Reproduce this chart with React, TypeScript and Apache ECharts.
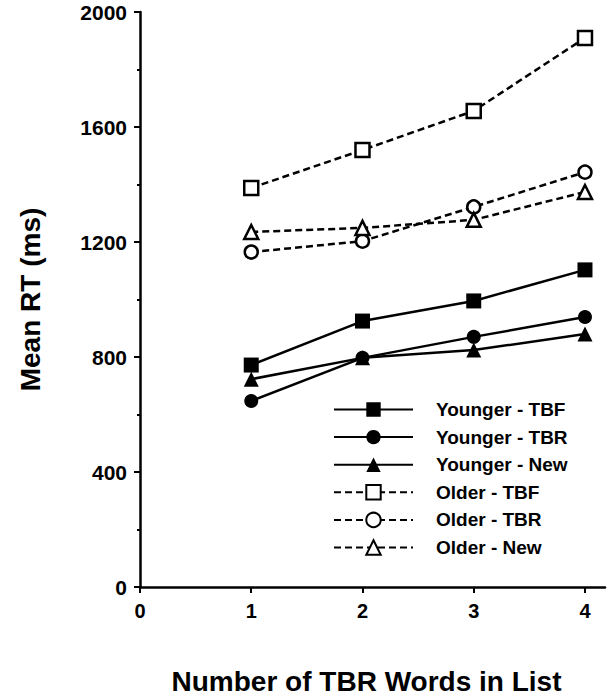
import React, { useEffect, useRef } from "react";
import * as echarts from "echarts";

const xValues = [1, 2, 3, 4];
const xTickLabels = [0, 1, 2, 3, 4];
const yTicks = { min: 0, max: 2000, interval: 400 };

const youngerTBF = [772, 925, 995, 1103];
const youngerTBR = [647, 797, 870, 939];
const youngerNew = [723, 797, 824, 880];
const olderTBF = [1388, 1520, 1656, 1910];
const olderTBR = [1165, 1203, 1322, 1443];
const olderNew = [1235, 1249, 1277, 1374];

const seriesNames = [
  "Younger - TBF",
  "Younger - TBR",
  "Younger - New",
  "Older - TBF",
  "Older - TBR",
  "Older - New",
];

const FONT = "'Liberation Sans', Arial, Helvetica, sans-serif";

export default function App() {
  const ref = useRef<HTMLDivElement>(null);

  useEffect(() => {
    if (!ref.current) return;
    const chart = echarts.init(ref.current, undefined, { renderer: "svg" });

    const pair = (vals: number[]) => xValues.map((x, i) => [x, vals[i]]);

    const mk = (
      name: string,
      vals: number[],
      symbol: string,
      size: number,
      filled: boolean
    ) => ({
      name,
      type: "line",
      data: pair(vals),
      symbol,
      symbolSize: size,
      showAllSymbol: true,
      lineStyle: {
        color: "#000",
        width: 2.5,
        type: filled ? "solid" : [7, 4],
      },
      itemStyle: {
        color: filled ? "#000" : "#fff",
        borderColor: "#000",
        borderWidth: filled ? 0 : 2.5,
      },
      emphasis: { disabled: true },
      z: filled ? 3 : 2,
    });

    chart.setOption({
      animation: false,
      backgroundColor: "#fff",
      textStyle: { fontFamily: FONT },
      grid: { left: 140, right: 4, top: 12, bottom: 113 },
      legend: {
        orient: "vertical",
        left: 333,
        top: 400,
        itemWidth: 79,
        itemHeight: 18,
        itemGap: 8.6,
        padding: 0,
        data: seriesNames,
        textStyle: {
          fontFamily: FONT,
          fontWeight: "bold",
          fontSize: 19,
          color: "#000",
          padding: [0, 0, 0, 18],
        },
      },
      xAxis: {
        type: "value",
        min: 0,
        max: 4.18,
        interval: 1,
        name: "Number of TBR Words in List",
        nameLocation: "middle",
        nameGap: 80,
        nameTextStyle: {
          fontFamily: FONT,
          fontWeight: "bold",
          fontSize: 28,
          color: "#000",
          padding: [0, 12, 0, 0],
        },
        axisLine: { lineStyle: { color: "#000", width: 2.5 } },
        axisTick: {
          show: true,
          length: 6,
          lineStyle: { color: "#000", width: 2 },
          customValues: xTickLabels,
        },
        axisLabel: {
          customValues: xTickLabels,
          fontFamily: FONT,
          fontWeight: "bold",
          fontSize: 20,
          color: "#000",
          margin: 14,
          formatter: (v: number) => String(v),
        },
        splitLine: { show: false },
      },
      yAxis: {
        type: "value",
        min: yTicks.min,
        max: yTicks.max,
        interval: yTicks.interval,
        name: "Mean RT (ms)",
        nameLocation: "middle",
        nameGap: 96,
        nameTextStyle: {
          fontFamily: FONT,
          fontWeight: "bold",
          fontSize: 28,
          color: "#000",
        },
        axisLine: { show: true, lineStyle: { color: "#000", width: 2.5 } },
        axisTick: { show: true, length: 6, lineStyle: { color: "#000", width: 2 } },
        minorTick: {
          show: true,
          splitNumber: 2,
          length: 3,
          lineStyle: { color: "#000", width: 2 },
        },
        axisLabel: {
          fontFamily: FONT,
          fontWeight: "bold",
          fontSize: 21,
          color: "#000",
          margin: 13,
          formatter: (v: number) => String(v),
        },
        splitLine: { show: false },
      },
      series: [
        mk(seriesNames[0], youngerTBF, "rect", 15, true),
        mk(seriesNames[1], youngerTBR, "circle", 14, true),
        mk(seriesNames[2], youngerNew, "triangle", 15, true),
        mk(seriesNames[3], olderTBF, "rect", 14, false),
        mk(seriesNames[4], olderTBR, "circle", 13, false),
        mk(seriesNames[5], olderNew, "triangle", 14, false),
      ],
    });

    return () => chart.dispose();
  }, []);

  return (
    <div
      ref={ref}
      style={{ position: "absolute", left: 0, top: 0, width: 609, height: 700 }}
    />
  );
}
